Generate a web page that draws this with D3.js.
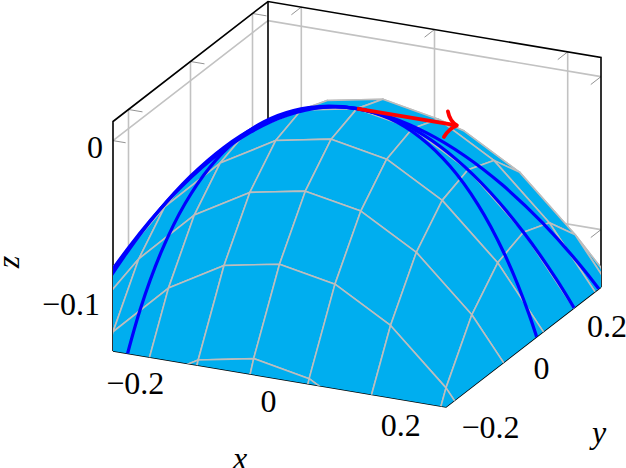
<!DOCTYPE html>
<html>
<head>
<meta charset="utf-8">
<script src="https://cdn.jsdelivr.net/npm/d3@7"></script>
<style>
  body { margin: 0; background: #fff; }
  text { font-family: "Liberation Serif", serif; font-size: 32px; fill: #000; }
</style>
</head>
<body>
<div id="Graph"></div>
<script>
const xTicks = [-0.2, 0, 0.2];
const yTicks = [-0.2, 0, 0.2];
const zTicks = [0, -0.1];
const xTickLabels = ['\u22120.2', '0', '0.2'];
const yTickLabels = ['\u22120.2', '0', '0.2'];
const zTickLabels = ['0', '\u22120.1'];

// surface samples
const gridX = [-0.3333, -0.25, -0.1667, -0.0833, 0, 0.0833, 0.1667, 0.25, 0.3333];
const gridY = [-0.4167, -0.3333, -0.25, -0.1667, -0.0833, 0, 0.0833, 0.1667, 0.25, 0.3333];
const gridZ = [
  [-0.2847, -0.2361, -0.2014, -0.1806, -0.1736, -0.1806, -0.2014, -0.2361, -0.2847],
  [-0.2222, -0.1736, -0.1389, -0.1181, -0.1111, -0.1181, -0.1389, -0.1736, -0.2222],
  [-0.1736, -0.125, -0.0903, -0.0694, -0.0625, -0.0694, -0.0903, -0.125, -0.1736],
  [-0.1389, -0.0903, -0.0556, -0.0347, -0.0278, -0.0347, -0.0556, -0.0903, -0.1389],
  [-0.1181, -0.0694, -0.0347, -0.0139, -0.0069, -0.0139, -0.0347, -0.0694, -0.1181],
  [-0.1111, -0.0625, -0.0278, -0.0069, 0, -0.0069, -0.0278, -0.0625, -0.1111],
  [-0.1181, -0.0694, -0.0347, -0.0139, -0.0069, -0.0139, -0.0347, -0.0694, -0.1181],
  [-0.1389, -0.0903, -0.0556, -0.0347, -0.0278, -0.0347, -0.0556, -0.0903, -0.1389],
  [-0.1736, -0.125, -0.0903, -0.0694, -0.0625, -0.0694, -0.0903, -0.125, -0.1736],
  [-0.2222, -0.1736, -0.1389, -0.1181, -0.1111, -0.1181, -0.1389, -0.1736, -0.2222]
];

// the three blue curves
const curveX = [-0.45, -0.4, -0.35, -0.3, -0.25, -0.2, -0.15, -0.1, -0.05, 0, 0.05, 0.1, 0.15, 0.2, 0.25, 0.3, 0.35];
const curveYUp = [0.2025, 0.16, 0.1225, 0.09, 0.0625, 0.04, 0.0225, 0.01, 0.0025, 0, 0.0025, 0.01, 0.0225, 0.04, 0.0625, 0.09, 0.1225];
const curveYDown = [-0.2025, -0.16, -0.1225, -0.09, -0.0625, -0.04, -0.0225, -0.01, -0.0025, 0, -0.0025, -0.01, -0.0225, -0.04, -0.0625, -0.09, -0.1225];
const curveYMid = [0, 0, 0, 0, 0, 0, 0, 0, 0, 0, 0, 0, 0, 0, 0, 0, 0];
const curveZOuter = [-0.2435, -0.1856, -0.1375, -0.0981, -0.0664, -0.0416, -0.023, -0.0101, -0.0025, 0, -0.0025, -0.0101, -0.023, -0.0416, -0.0664, -0.0981, -0.1375];
const curveZMid = [-0.2025, -0.16, -0.1225, -0.09, -0.0625, -0.04, -0.0225, -0.01, -0.0025, 0, -0.0025, -0.01, -0.0225, -0.04, -0.0625, -0.09, -0.1225];

const arrowFrom = [0, 0, 0];
const arrowTo = [0.15, 0, 0];

const width = 626;
const height = 468;
const xMin = -0.25, xMax = 0.25, yMin = -0.25, yMax = 0.25, zMin = -0.1375, zMax = 0.0125;
const originX = 113, originY = 351;

const xToPx = d3.scaleLinear().domain([xMin, xMax]).range([0, 333]);
const xToPy = d3.scaleLinear().domain([xMin, xMax]).range([0, 56]);
const yToPx = d3.scaleLinear().domain([yMin, yMax]).range([0, 155]);
const yToPy = d3.scaleLinear().domain([yMin, yMax]).range([0, -120]);
const zToPy = d3.scaleLinear().domain([zMin, zMax]).range([0, -229.5]);

const project = ([x, y, z]) => [
  originX + xToPx(x) + yToPx(y),
  originY + xToPy(x) + yToPy(y) + zToPy(z)
];
const line3 = d3.line().x(d => project(d)[0]).y(d => project(d)[1]);
const smooth3 = d3.line().x(d => project(d)[0]).y(d => project(d)[1]).curve(d3.curveCatmullRom);

const svg = d3.select('#Graph').append('svg')
  .attr('width', width)
  .attr('height', height)
  .style('display', 'block');

const gridColor = '#c2c2c2';
const meshColor = '#bdbdbd';

// clip is the outline of the box
const outline = [
  [xMin, yMin, zMin], [xMax, yMin, zMin], [xMax, yMax, zMin], [xMax, yMax, zMax],
  [xMin, yMax, zMax], [xMin, yMin, zMax]
];
svg.append('clipPath').attr('id', 'box')
  .append('path').attr('d', line3(outline) + 'Z');

// grid on the back walls
const walls = svg.append('g').attr('fill', 'none').attr('stroke', gridColor).attr('stroke-width', 1.6);
xTicks.forEach(x => walls.append('path').attr('d', line3([[x, yMax, zMin], [x, yMax, zMax]])));
yTicks.forEach(y => walls.append('path').attr('d', line3([[xMin, y, zMin], [xMin, y, zMax]])));
zTicks.forEach(z => walls.append('path').attr('d', line3([[xMin, yMin, z], [xMin, yMax, z], [xMax, yMax, z]])));

// tick marks
const ticks = svg.append('g').attr('fill', 'none').attr('stroke', '#777').attr('stroke-width', 0.8);
xTicks.forEach(x => ticks.append('path').attr('d', line3([[x, yMax, zMax], [x, yMax - 0.032, zMax]])));
yTicks.forEach(y => ticks.append('path').attr('d', line3([[xMin, y, zMax], [xMin + 0.021, y, zMax]])));
zTicks.forEach(z => {
  ticks.append('path').attr('d', line3([[xMin, yMin, z], [xMin + 0.019, yMin, z]]));
  ticks.append('path').attr('d', line3([[xMax, yMax, z], [xMax, yMax - 0.033, z]]));
});

// box lines
const boxEdges = [
  [[xMin, yMin, zMin], [xMin, yMin, zMax], [xMin, yMax, zMax], [xMax, yMax, zMax], [xMax, yMax, zMin]],
  [[xMin, yMax, zMax], [xMin, yMax, zMin]],
  [[xMin, yMin, zMin], [xMax, yMin, zMin], [xMax, yMax, zMin]]
];
svg.append('g').selectAll('path').data(boxEdges).enter().append('path')
  .attr('d', line3)
  .attr('fill', 'none')
  .attr('stroke', '#000')
  .attr('stroke-width', 1.6);

// patches back to front
const patches = [];
for (let j = gridY.length - 2; j >= 0; j--) {
  for (let i = 0; i < gridX.length - 1; i++) {
    patches.push([
      [gridX[i], gridY[j], gridZ[j][i]],
      [gridX[i + 1], gridY[j], gridZ[j][i + 1]],
      [gridX[i + 1], gridY[j + 1], gridZ[j + 1][i + 1]],
      [gridX[i], gridY[j + 1], gridZ[j + 1][i]]
    ]);
  }
}
const plot = svg.append('g').attr('clip-path', 'url(#box)');
plot.selectAll('path.patch').data(patches).enter().append('path')
  .attr('class', 'patch')
  .attr('d', d => line3(d) + 'Z')
  .attr('fill', '#00aeef')
  .attr('stroke', meshColor)
  .attr('stroke-width', 1.6)
  .attr('stroke-linejoin', 'round');

const blue = [
  curveX.map((x, i) => [x, curveYDown[i], curveZOuter[i]]),
  curveX.map((x, i) => [x, curveYMid[i], curveZMid[i]]),
  curveX.map((x, i) => [x, curveYUp[i], curveZOuter[i]])
];
plot.selectAll('path.blue').data(blue).enter().append('path')
  .attr('class', 'blue')
  .attr('d', smooth3)
  .attr('fill', 'none')
  .attr('stroke', '#0000ff')
  .attr('stroke-width', 3.2);

// red arrow with a curved head
const tip = project(arrowTo);
svg.append('path')
  .attr('d', line3([arrowFrom, arrowTo]))
  .attr('fill', 'none')
  .attr('stroke', '#ff0000')
  .attr('stroke-width', 3.8);
svg.append('path')
  .attr('transform', `translate(${tip[0]},${tip[1]})`)
  .attr('d', 'M-9,-14 Q-7,-4 0,0 Q-8,3 -13,11.5')
  .attr('fill', 'none')
  .attr('stroke', '#ff0000')
  .attr('stroke-width', 3.8)
  .attr('stroke-linecap', 'round')
  .attr('stroke-linejoin', 'round');

// tick labels
const centerLabel = (sel, px, py, str) => sel.append('text')
  .attr('x', px).attr('y', py).attr('text-anchor', 'middle')
  .attr('dominant-baseline', 'central').text(str);

const xNudge = [[-11, 26.5], [-11, 22], [-12, 23.5]];
xTicks.forEach((x, i) => {
  const p = project([x, yMin, zMin]);
  centerLabel(svg, p[0] + xNudge[i][0], p[1] + xNudge[i][1], xTickLabels[i]);
});
const yNudge = [[29, 32], [18, 21], [21.5, 27]];
yTicks.forEach((y, i) => {
  const p = project([xMax, y, zMin]);
  centerLabel(svg, p[0] + yNudge[i][0], p[1] + yNudge[i][1], yTickLabels[i]);
});
const zNudge = [[-18, 6], [-42, 10]];
zTicks.forEach((z, i) => {
  const p = project([xMin, yMin, z]);
  centerLabel(svg, p[0] + zNudge[i][0], p[1] + zNudge[i][1], zTickLabels[i]);
});

// axis labels
const axisLabel = (px, py, str, rot) => svg.append('text')
  .attr('transform', `translate(${px},${py}) rotate(${rot})`)
  .attr('text-anchor', 'middle')
  .attr('dominant-baseline', 'central')
  .style('font-style', 'italic')
  .text(str);
axisLabel(240, 458, 'x', 0);
axisLabel(599, 432, 'y', 0);
axisLabel(8, 262, 'z', -90);
</script>
</body>
</html>
